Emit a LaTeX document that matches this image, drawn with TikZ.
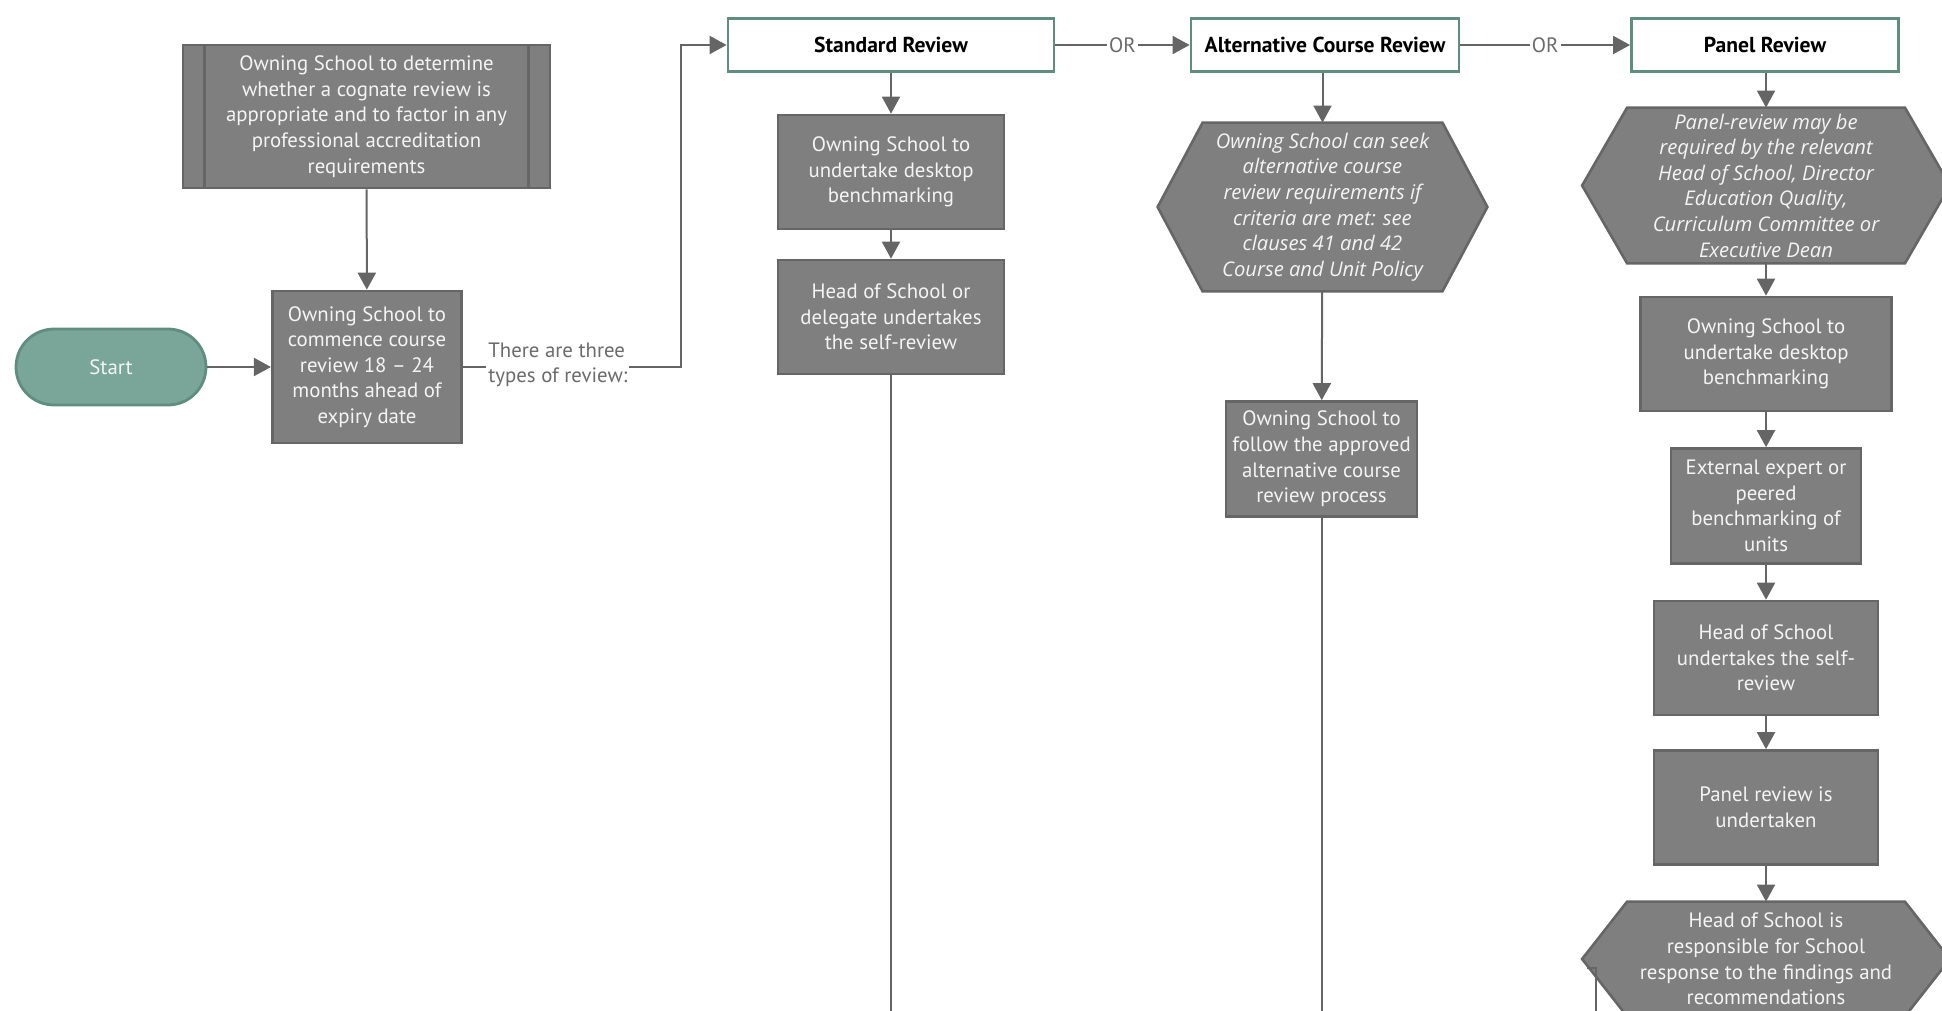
\documentclass[tikz,border=0pt]{standalone}
\usepackage{fontspec}
\setmainfont{PT Sans}
\newfontfamily\hexfont{Open Sans}
\usetikzlibrary{arrows.meta,backgrounds}

\definecolor{boxgrey}{HTML}{7F7F7F}
\definecolor{edgegrey}{HTML}{666666}
\definecolor{linegrey}{HTML}{656565}
\definecolor{txtwhite}{HTML}{F4F4F4}
\definecolor{tealfill}{HTML}{7AA699}
\definecolor{tealedge}{HTML}{5F8D80}
\definecolor{labelgrey}{HTML}{6B6B6B}

\tikzset{
  flowbox/.style={rectangle, draw=edgegrey, fill=boxgrey, line width=1.3pt,
    text=txtwhite, align=center, inner sep=1pt,
    font=\fontsize{10.4}{12.8}\selectfont},
  hexbox/.style={rectangle, draw=none, text=txtwhite, align=center, inner sep=1pt,
    font=\hexfont\fontsize{10.1}{12.8}\selectfont},
  titlebox/.style={rectangle, draw=tealedge, fill=white, line width=1.4pt,
    minimum height=26.5pt, font=\fontsize{10.8}{12}\selectfont\bfseries},
  startbox/.style={rectangle, rounded corners=19pt, draw=tealedge, fill=tealfill,
    line width=1.4pt, text=txtwhite, minimum width=95pt, minimum height=38pt,
    font=\fontsize{10.4}{12}\selectfont},
  conn/.style={draw=linegrey, line width=1pt},
  arr/.style={conn, -{Triangle[length=8.5pt,width=9pt]}},
  orlabel/.style={fill=white, text=labelgrey, inner xsep=1pt, inner ysep=0pt,
    font=\fontsize{10.4}{12}\selectfont},
}

\begin{document}
\begin{tikzpicture}[x=0.5pt,y=-0.5pt]

    \path[use as bounding box, clip] (0,0) rectangle (1942,1011);

    % Left part
    \node[flowbox, minimum width=183.5pt, minimum height=71.5pt] (cognate) at (366.5,116.5)
        {Owning School to determine\\whether a cognate review is\\appropriate and to factor in any\\professional accreditation\\requirements};
    \draw[edgegrey, line width=1.3pt] ([xshift=11.5pt]cognate.north west) -- ([xshift=11.5pt]cognate.south west);
    \draw[edgegrey, line width=1.3pt] ([xshift=-11.5pt]cognate.north east) -- ([xshift=-11.5pt]cognate.south east);

    \node[flowbox, minimum width=94.75pt, minimum height=76pt] (commence) at (367,367)
        {Owning School to\\commence course\\review 18 – 24\\months ahead of\\expiry date};
    \node[startbox] (start) at (111,367) {Start};

    \draw[arr] (start) -- (commence);
    \draw[arr] (cognate) -- (commence);

    % Review types
    \node[titlebox, minimum width=163pt] (standard) at (891,45) {Standard Review};
    \node[titlebox, minimum width=134pt] (alternative) at (1325,45) {Alternative Course Review};
    \node[titlebox, minimum width=133.5pt] (panel) at (1765,45) {Panel Review};

    \draw[arr] (commence.east) -- (681,367) |- (standard.west);
    \node[orlabel, align=left, inner ysep=1pt, font=\fontsize{10.4}{12.5}\selectfont, anchor=west] (types) at (486,364.5)
        {There are three\\types of review:};

    \draw[arr] (standard) -- node[orlabel] {OR} (alternative);
    \draw[arr] (alternative) -- node[orlabel] {OR} (panel);

    % Standard review
    \node[flowbox, minimum width=113pt, minimum height=57pt] (stdbench) at (891,172)
        {Owning School to\\undertake desktop\\benchmarking};
    \node[flowbox, minimum width=113pt, minimum height=57pt] (stdself) at (891,317)
        {Head of School or\\delegate undertakes\\the self-review};
    \coordinate (stdout) at (891,1040);

    \draw[arr] (standard) -- (stdbench);
    \draw[arr] (stdbench) -- (stdself);
    \draw[conn] (stdself) -- (stdout);

    % Alternative course review
    \node[hexbox, minimum width=119.5pt, minimum height=84pt] (althex) at (1322.5,207)
        {\itshape Owning School can seek\\\itshape alternative course\\\itshape review requirements if\\\itshape criteria are met: see\\\itshape clauses 41 and 42\\\itshape Course and Unit Policy};
    \node[flowbox, minimum width=95.5pt, minimum height=57.5pt] (altproc) at (1321.5,459)
        {Owning School to\\follow the approved\\alternative course\\review process};
    \coordinate (altout) at (1321.5,1040);

    \draw[arr] (alternative.south -| althex.north) -- (althex.north);
    \draw[arr] (althex) -- (altproc);
    \draw[conn] (altproc) -- (altout);

    % Panel review
    \node[hexbox, minimum width=138.5pt, minimum height=77.5pt] (panhex) at (1766,185.5)
        {\itshape Panel-review may be\\\itshape required by the relevant\\\itshape Head of School, Director\\\itshape Education Quality,\\\itshape Curriculum Committee or\\\itshape Executive Dean};
    \node[flowbox, minimum width=125.5pt, minimum height=57pt] (panbench) at (1766,354)
        {Owning School to\\undertake desktop\\benchmarking};
    \node[flowbox, minimum width=95pt, minimum height=57.5pt] (panexpert) at (1766,506)
        {External expert or\\peered\\benchmarking of\\units};
    \node[flowbox, minimum width=112pt, minimum height=57pt] (panself) at (1766,658)
        {Head of School\\undertakes the self-\\review};
    \node[flowbox, minimum width=112pt, minimum height=57pt] (panrun) at (1766,807.5)
        {Panel review is\\undertaken};
    \node[hexbox, font=\fontsize{10.4}{12.8}\selectfont, minimum width=138.5pt, minimum height=57pt] (resphex) at (1766,959)
        {Head of School is\\responsible for School\\response to the findings and\\recommendations};

    \begin{scope}[on background layer]
        \foreach \h in {althex,panhex,resphex}
            \draw[draw=edgegrey, fill=boxgrey, line width=1.3pt]
                (\h.north west) -- (\h.north east) -- ([xshift=22.5pt]\h.east)
                -- (\h.south east) -- (\h.south west) -- ([xshift=-22.5pt]\h.west) -- cycle;
    \end{scope}

    \draw[arr] (panel.south -| panhex.north) -- (panhex.north);
    \draw[arr] (panhex) -- (panbench);
    \draw[arr] (panbench) -- (panexpert);
    \draw[arr] (panexpert) -- (panself);
    \draw[arr] (panself) -- (panrun);
    \draw[arr] (panrun) -- (resphex);

    \coordinate (respout) at (1596,1040);
    \draw[conn] ([xshift=-20pt,yshift=-4.5pt]resphex.west) -| (respout);

\end{tikzpicture}
\end{document}
